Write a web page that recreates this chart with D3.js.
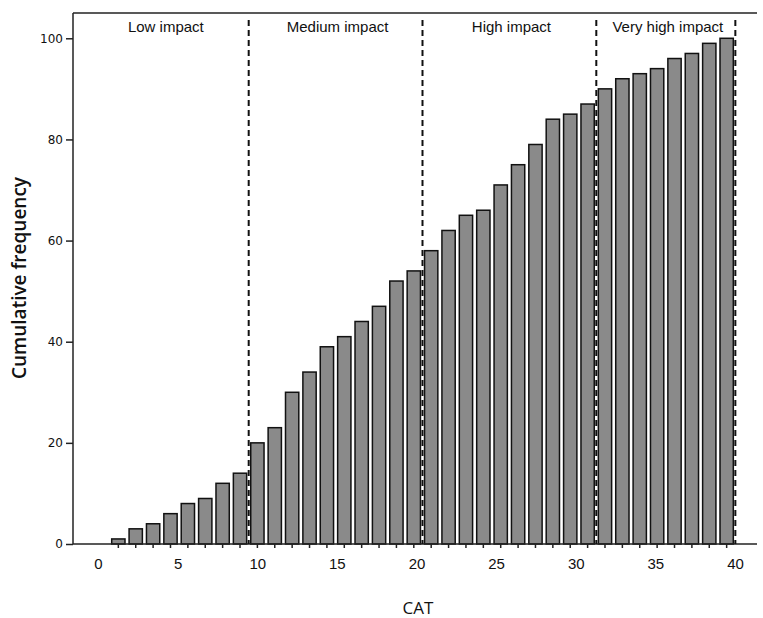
<!DOCTYPE html>
<html>
<head>
<meta charset="utf-8">
<script src="https://cdn.jsdelivr.net/npm/d3@7"></script>
<style>
  body { margin: 0; background: #fff; }
</style>
</head>
<body>
<div id="chart"></div>
<script>
// cumulative frequency per CAT bar
let barIds = d3.range(1, 37);
let cumFreq = [1, 3, 4, 6, 8, 9, 12, 14,
  20, 23, 30, 34, 39, 41, 44, 47, 52, 54,
  58, 62, 65, 66, 71, 75, 79, 84, 85, 87,
  90, 92, 93, 94, 96, 97, 99, 100];

// impact bands: label and the number of the last bar in each band
let groupNames = ["Low impact", "Medium impact", "High impact", "Very high impact"];
let groupEnds = [8, 18, 28, 36];

let xTickLabels = [0, 5, 10, 15, 20, 25, 30, 35, 40];
let yTickLabels = [0, 20, 40, 60, 80, 100];

let width = 763, height = 618;
let plotLeft = 73, plotRight = 757, plotTop = 13, plotBottom = 544;

let svg = d3.select("#chart")
  .append("svg")
  .attr("width", width)
  .attr("height", height);

let x = d3.scaleBand()
  .domain(barIds)
  .range([111.7, 733.3])
  .paddingInner(0.235)
  .paddingOuter(0);

let xLab = d3.scaleLinear().domain([0, 40]).range([98, 735]);

let y = d3.scaleLinear().domain([0, 105]).range([plotBottom, plotTop]);

// bars
svg.selectAll("rect.bar")
  .data(barIds)
  .enter()
  .append("rect")
  .attr("class", "bar")
  .attr("x", d => x(d))
  .attr("width", x.bandwidth())
  .attr("y", (d, i) => y(cumFreq[i]))
  .attr("height", (d, i) => y(0) - y(cumFreq[i]))
  .attr("fill", "#8a8a8a")
  .attr("stroke", "#111")
  .attr("stroke-width", 1.5);

// top frame line
svg.append("line")
  .attr("x1", plotLeft).attr("x2", plotRight)
  .attr("y1", plotTop).attr("y2", plotTop)
  .attr("stroke", "#222").attr("stroke-width", 1.5);

// small ticks under every bar
let xTicks = svg.append("g")
  .attr("transform", `translate(0,${plotBottom})`)
  .call(d3.axisBottom(x).tickSize(4).tickFormat(""));
xTicks.select(".domain").remove();
xTicks.selectAll("line").attr("stroke", "#222").attr("stroke-width", 1.5);

// x labels 0..40
let xAxis = svg.append("g")
  .attr("transform", `translate(0,${plotBottom})`)
  .call(d3.axisBottom(xLab).tickValues(xTickLabels).tickSize(0).tickPadding(14));
xAxis.select(".domain").remove();
xAxis.selectAll("text")
  .style("font-family", "'Liberation Sans', Arial, sans-serif")
  .style("font-size", "15px")
  .attr("fill", "#111");

svg.append("line")
  .attr("x1", plotLeft).attr("x2", plotRight)
  .attr("y1", plotBottom).attr("y2", plotBottom)
  .attr("stroke", "#222").attr("stroke-width", 1.5);

// y axis
let yAxis = svg.append("g")
  .attr("transform", `translate(${plotLeft},0)`)
  .call(d3.axisLeft(y).tickValues(yTickLabels).tickSize(7).tickPadding(3));
yAxis.select(".domain")
  .attr("d", `M0,${plotBottom}V${plotTop}`)
  .attr("stroke", "#222").attr("stroke-width", 1.5);
yAxis.selectAll("line").attr("stroke", "#222").attr("stroke-width", 1.5);
yAxis.selectAll("text")
  .style("font-family", "'DejaVu Sans', sans-serif")
  .style("font-size", "12px")
  .attr("fill", "#111");

// dashed boundaries between impact bands
let gap = x.step() * x.paddingInner() / 2;
let boundX = groupEnds.map(e => x(e) + x.bandwidth() + gap);
svg.selectAll("line.bound")
  .data(boundX)
  .enter()
  .append("line")
  .attr("class", "bound")
  .attr("x1", d => d).attr("x2", d => d)
  .attr("y1", 20).attr("y2", plotBottom)
  .attr("stroke", "#111")
  .attr("stroke-width", 2)
  .attr("stroke-dasharray", "6,4");

// band labels
let bandLeft = [plotLeft].concat(boundX.slice(0, -1));
svg.selectAll("text.group")
  .data(groupNames)
  .enter()
  .append("text")
  .attr("class", "group")
  .attr("x", (d, i) => (bandLeft[i] + boundX[i]) / 2 + (i === 0 ? 5 : 2))
  .attr("y", 32)
  .attr("text-anchor", "middle")
  .style("font-family", "'Liberation Sans', Arial, sans-serif")
  .style("font-size", "15px")
  .attr("fill", "#111")
  .text(d => d);

// axis titles
svg.append("text")
  .attr("transform", "translate(26,278) rotate(-90)")
  .attr("text-anchor", "middle")
  .style("font-family", "'Open Sans', sans-serif")
  .style("font-size", "19px")
  .style("font-weight", "600")
  .attr("fill", "#111")
  .text("Cumulative frequency");

svg.append("text")
  .attr("x", 418)
  .attr("y", 614)
  .attr("text-anchor", "middle")
  .style("font-family", "'Open Sans', sans-serif")
  .style("font-size", "17px")
  .attr("fill", "#111")
  .text("CAT");
</script>
</body>
</html>
